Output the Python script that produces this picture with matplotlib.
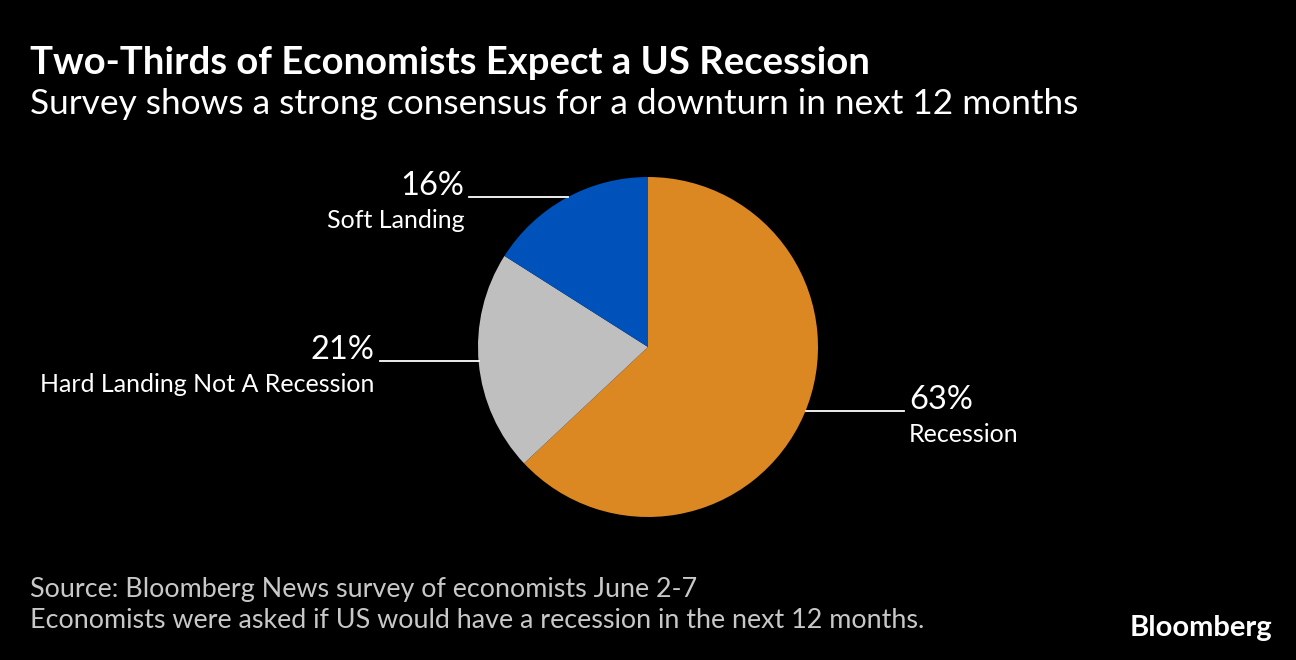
import matplotlib
matplotlib.use("Agg")
from matplotlib import pyplot as plt

plt.rcParams['font.family'] = ['Lato', 'DejaVu Sans']

# Survey shares
labels = ["Recession", "Hard Landing Not A Recession", "Soft Landing"]
shares = [63, 21, 16]
colors = ["#DB8722", "#BFBFBF", "#0052BB"]

# Height (in pie radii) at which each leader line touches the pie
label_y = [-0.376, -0.082, 0.882]

W, H = 1296, 660
fig = plt.figure(figsize=(W / 100, H / 100), dpi=100, facecolor="black")

# Pie: centre (648, 347), radius 170 px
cx, cy, r = 648, 347, 170
ax = fig.add_axes([(cx - r) / W, (H - cy - r) / H, 2 * r / W, 2 * r / H])
ax.set_facecolor("black")
ax.pie(shares, colors=colors, startangle=90, counterclock=False,
       wedgeprops=dict(linewidth=0), radius=1)
ax.set_xlim(-1, 1)
ax.set_ylim(-1, 1)
ax.set_aspect("equal")
ax.axis("off")

# Leader lines and labels
line_len = 0.58
gap = 0.03
for lab, val, ly, side in zip(labels, shares, label_y, [1, -1, -1]):
    ex = side * (1 - ly ** 2) ** 0.5
    x1 = ex + side * line_len
    ax.plot([ex, x1], [ly, ly], color="white", lw=1.3, clip_on=False)
    ha = "left" if side > 0 else "right"
    tx = x1 + side * gap
    ax.text(tx, ly + 0.01, f"{val}%", color="white", fontsize=23.5,
            ha=ha, va="baseline")
    ax.text(tx, ly - 0.14, lab, color="white", fontsize=18,
            ha=ha, va="center")

# Title, subtitle, footer
fig.text(30 / W, 1 - 63 / H, "Two-Thirds of Economists Expect a US Recession",
         color="white", fontsize=27.5, fontweight="bold", va="center", ha="left")
fig.text(30 / W, 1 - 104 / H,
         "Survey shows a strong consensus for a downturn in next 12 months",
         color="white", fontsize=25.4, va="center", ha="left")
fig.text(30 / W, 1 - 589 / H, "Source: Bloomberg News survey of economists June 2-7",
         color="#C8C8C8", fontsize=19.4, va="center", ha="left")
fig.text(30 / W, 1 - 620 / H,
         "Economists were asked if US would have a recession in the next 12 months.",
         color="#C8C8C8", fontsize=19.4, va="center", ha="left")
fig.text(1272 / W, 1 - 628 / H, "Bloomberg", color="white", fontsize=21,
         fontweight="bold", va="center", ha="right")

fig.savefig("out.png", dpi=100, facecolor="black")
